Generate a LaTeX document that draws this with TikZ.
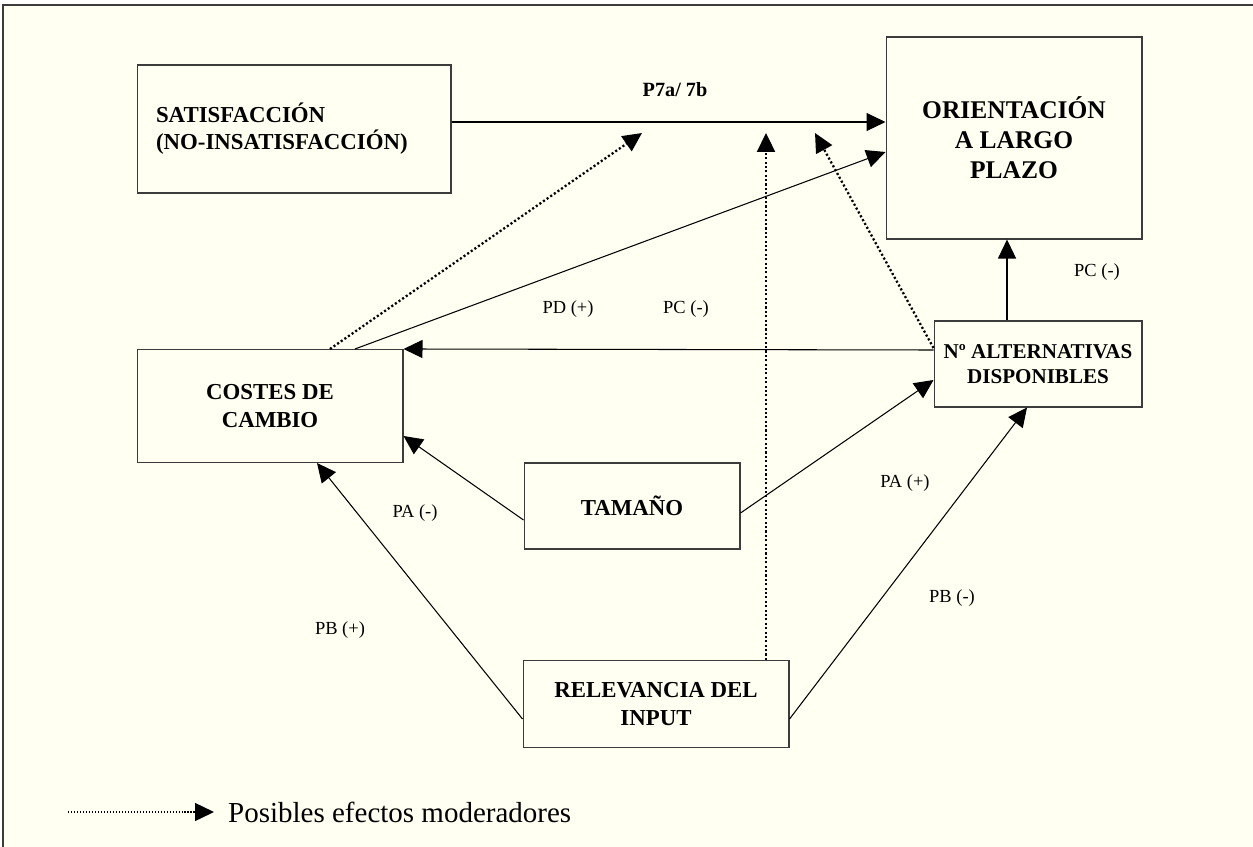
\documentclass[tikz,border=0pt]{standalone}
\usepackage{fontspec}
\setmainfont{Liberation Serif}
\usetikzlibrary{arrows.meta}
\definecolor{paper}{RGB}{255,255,242}
\definecolor{edge}{RGB}{60,60,60}
\begin{document}
\begin{tikzpicture}[x=0.02cm,y=-0.02cm,
    box/.style={rectangle,draw=edge,line width=0.6pt,align=center,
      font=\fontsize{13}{15.5}\selectfont\bfseries},
    arr/.style={line width=0.6pt,-{Triangle[length=3.8mm,width=3.6mm]}},
    dotarr/.style={line width=1.3pt,dash pattern=on 1.2pt off 1.3pt,
      -{Triangle[length=3.8mm,width=3.6mm]}},
    lbl/.style={font=\fontsize{10.5}{12}\selectfont}]
  \useasboundingbox (0,0) rectangle (1253,847);
  \fill[white] (0,0) rectangle (1253,847);
  \fill[paper] (3,5) rectangle (1253,847);
  \draw[edge,line width=0.7pt] (3,847) -- (3,5) -- (1253,5);

  \path (294,129) node[box,align=left,text width=5.52cm,inner xsep=0.38cm,
    minimum height=2.56cm] (sat) {SATISFACCIÓN\\(NO-INSATISFACCIÓN)};
  \path (1014,138) node[box,minimum width=5.12cm,minimum height=4.04cm,
    font=\fontsize{14.5}{17}\selectfont\bfseries] (ori) {ORIENTACIÓN\\A LARGO\\PLAZO};
  \path (270,406) node[box,minimum width=5.32cm,minimum height=2.26cm] (cost) {COSTES DE\\CAMBIO};
  \path (1038,364) node[box,minimum width=4.16cm,minimum height=1.72cm,
    font=\fontsize{12}{14.5}\selectfont\bfseries] (alt) {Nº ALTERNATIVAS\\DISPONIBLES};
  \path (632,506) node[box,minimum width=4.32cm,minimum height=1.72cm] (tam) {TAMAÑO};
  \path (656,704) node[box,minimum width=5.32cm,minimum height=1.74cm] (rel) {RELEVANCIA DEL\\INPUT};

  \coordinate (m1) at (642,133);
  \coordinate (m2) at (766,133);
  \coordinate (m3) at (815,133);

  \draw[arr] ([yshift=1.4mm]sat.east) coordinate (s1) -- (s1 -| ori.west);
  \draw[dotarr] ([xshift=1.2cm]cost.north) -- (m1);
  \draw[arr] ([xshift=1.7cm]cost.north) -- ([yshift=-2.8mm]ori.west);
  \draw[dotarr] (rel.north -| m2) -- (m2);
  \draw[dotarr] ([yshift=3.2mm]alt.west) -- (m3);
  \draw[arr] ([yshift=2.8mm]alt.west) -- (cost.north east);
  \draw[arr] ([xshift=-6.2mm]alt.north) coordinate (a1) -- (a1 |- ori.south);
  \draw[arr] ([yshift=-2.8mm]tam.west) -- ([yshift=-6mm]cost.east);
  \draw[arr] ([yshift=-1.4mm]tam.east) -- ([yshift=-3.2mm]alt.west);
  \draw[arr] ([yshift=-3mm]rel.west) -- ([xshift=9.4mm]cost.south);
  \draw[arr] ([yshift=-3mm]rel.east) -- ([xshift=-2.2mm]alt.south);

  \path (675,90) node[lbl,font=\fontsize{11.5}{13}\selectfont\bfseries] (p7) {P7a/ 7b};
  \path (568,309) node[lbl] (pd) {PD (+)};
  \path (686,309) node[lbl] (pc1) {PC (-)};
  \path (1097,272) node[lbl] (pc2) {PC (-)};
  \path (415,513) node[lbl] (pa1) {PA (-)};
  \path (905,483) node[lbl] (pa2) {PA (+)};
  \path (952,598) node[lbl] (pb1) {PB (-)};
  \path (340,630) node[lbl] (pb2) {PB (+)};

  \coordinate (l0) at (68,812);
  \path (222,812) node[anchor=west,font=\fontsize{16.5}{19}\selectfont] (leg) {Posibles efectos moderadores};
  \draw[dotarr,line width=0.8pt,dash pattern=on 0.8pt off 0.9pt] (l0) -- ([xshift=-1.6mm]leg.west);
\end{tikzpicture}
\end{document}
